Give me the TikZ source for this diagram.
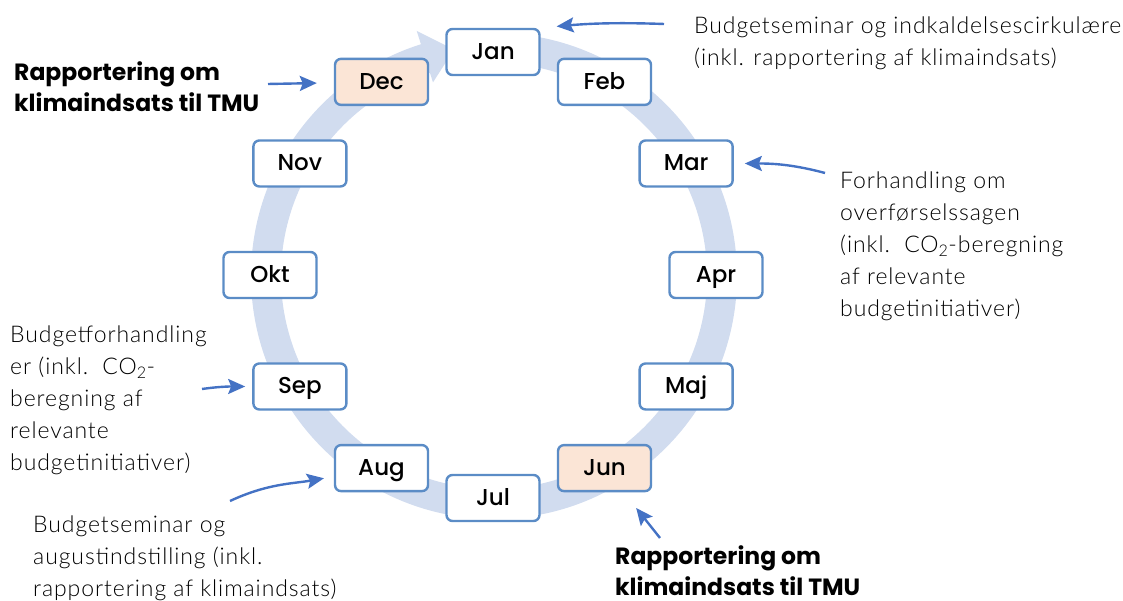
\documentclass[tikz,border=0pt]{standalone}
\usepackage{fontspec}
\setmainfont{Lato Light}[LetterSpace=4]
\newfontfamily\monthfont{Poppins Medium}
\newfontfamily\heavyfont{Poppins Bold}
\usetikzlibrary{arrows.meta}
\definecolor{boxline}{HTML}{5B8CC6}
\definecolor{peach}{HTML}{FBE5D6}
\definecolor{ring}{HTML}{D1DCEF}
\definecolor{arrowblue}{HTML}{4472C4}

\begin{document}
\begin{tikzpicture}[x=1pt,y=1pt,>={Stealth[length=17pt,width=15pt,inset=3pt]},
  month/.style={draw=boxline,line width=2.4pt,fill=white,rounded corners=6pt,minimum width=93pt,minimum height=46pt,inner sep=0pt,text height=18pt,text depth=3pt,font=\monthfont\fontsize{23}{28}\selectfont},
  report/.style={month,fill=peach},
  note/.style={align=left,anchor=north west,inner sep=0pt,font=\fontsize{23}{32}\selectfont},
  bold/.style={note,font=\heavyfont\fontsize{23.5}{31}\selectfont},
  pointer/.style={->,color=arrowblue,line width=2.4pt}]

\useasboundingbox (0,0) rectangle (1123,601);

% ring with arrow head
\begin{scope}[shift={(494,325)}]
\fill[ring] (92:243) arc[start angle=92,end angle=-252.5,radius=243] -- (107.5:257) -- ([shift={(17.5:30)}]107.5:228) -- (107.5:203) -- (107.5:213) arc[start angle=-252.5,end angle=92,radius=213] -- cycle;
\end{scope}

% months
\foreach \m/\a/\s in {Jan/90/month,Feb/60/month,Mar/30/month,Apr/0/month,Maj/-30/month,Jun/-60/report,Jul/-90/month,Aug/-120/month,Sep/-150/month,Okt/180/month,Nov/150/month,Dec/120/report}
  \node[\s] (\m) at ([shift={(\a:223)}]493,326) {\m};

% notes
\node[note] (tJan) at (694,584) {Budgetseminar og indkaldelsescirkulære\\(inkl. rapportering af klimaindsats)};
\node[bold] (tDec) at (14,540) {Rapportering om\\klimaindsats til TMU};
\node[note] (tMar) at (840,429) {Forhandling om\\overførselssagen\\(inkl.\ \ CO\textsubscript{2}-beregning\\af relevante\\budgetinitiativer)};
\node[note] (tSep) at (10,275) {Budgetforhandling\\er (inkl.\ \ CO\textsubscript{2}-\\beregning af\\relevante\\budgetinitiativer)};
\node[note] (tAug) at (33,85) {Budgetseminar og\\augustindstilling (inkl.\\rapportering af klimaindsats)};
\node[bold] (tJun) at (615,56) {Rapportering om\\klimaindsats til TMU};

\coordinate (sJan) at (664,577);
\coordinate (sDec) at (268,517);
\coordinate (sMar) at (825,428);
\coordinate (sSep) at (202,212);
\coordinate (sAug) at (230,100);
\coordinate (sJun) at (660,63);

\path[pointer] (sJan) edge[out=178,in=5,shorten >=16pt] (Jan.north east)
      (sDec) edge[shorten >=17pt] (Dec)
      (sMar) edge[out=165,in=0,shorten >=11pt] (Mar)
      (sSep) edge[out=8,in=180,shorten >=7pt] (Sep)
      (sAug) edge[out=25,in=190,shorten >=10pt] (Aug)
      (sJun) edge[shorten >=20pt] (Jun);

\end{tikzpicture}
\end{document}
